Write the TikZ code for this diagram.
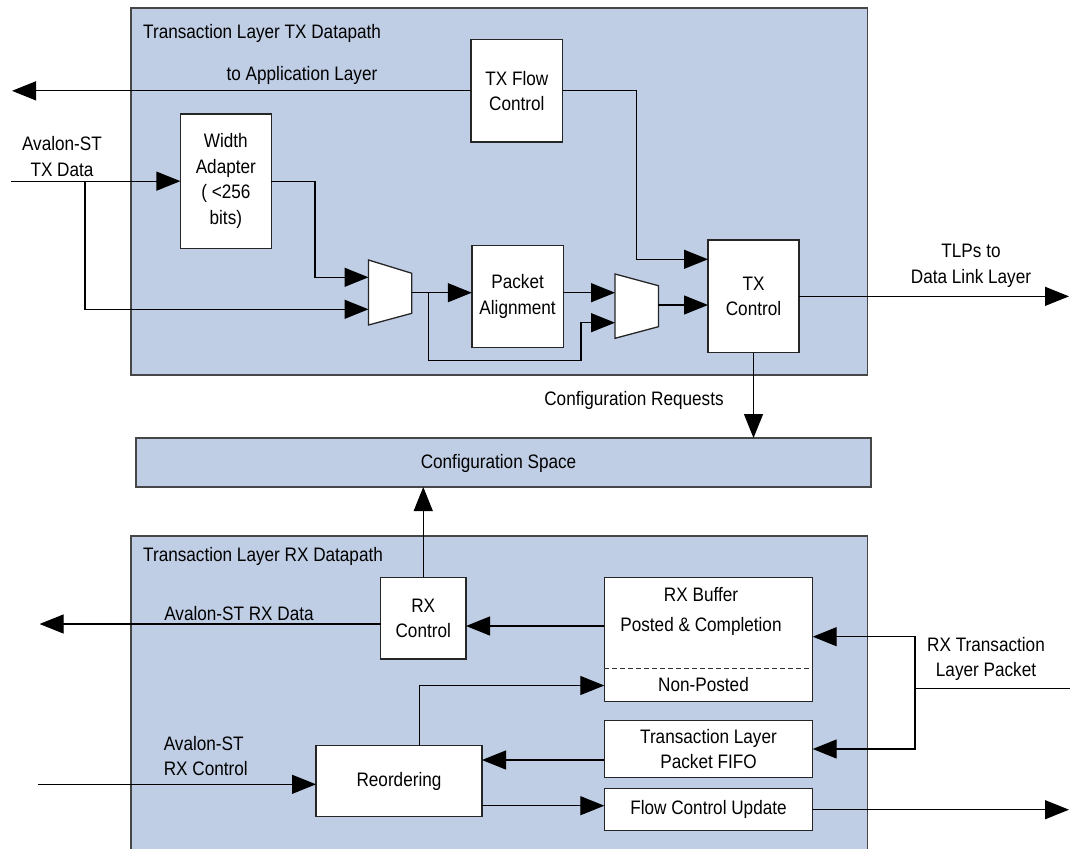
\documentclass[tikz,border=0pt]{standalone}
\usepackage{fontspec}
\setmainfont{Liberation Sans}[FakeStretch=0.88]
\usetikzlibrary{arrows.meta}
\definecolor{regblue}{RGB}{191,206,229}
\definecolor{bordgray}{RGB}{70,70,70}
\tikzset{
  region/.style={draw=bordgray, fill=regblue, line width=1.4pt, inner sep=0pt, outer sep=0pt},
  blk/.style={draw=black!85, fill=white, line width=1.4pt, align=center, inner sep=0pt, outer sep=0pt},
  muxshape/.style={draw=black!85, fill=white, line width=1.3pt},
  lbl/.style={align=center, inner sep=0pt},
  conn/.style={line width=1.2pt, draw=black},
  arr/.style={conn, -{Triangle[length=24pt,width=19pt]}},
}
\begin{document}
\begin{tikzpicture}[x=1pt,y=-1pt,font=\fontsize{19.5pt}{25.5pt}\selectfont]
\clip (0,0) rectangle (1070,848);
\fill[white] (0,0) rectangle (1070,848);

% regions
\node[region, minimum width=736.9pt, minimum height=367pt] (txdp) at (499.25,191.5) {};
\node[region, minimum width=736.9pt, minimum height=324pt] (rxdp) at (499.25,698) {};
\node[region, minimum width=735pt, minimum height=49pt] (cfg) at (503.5,462.5) {};
\node[lbl] (cfgt) at (498.5,463) {Configuration Space};
\node[lbl, anchor=west] (txtitle) at (143,33.5) {Transaction Layer TX Datapath};
\node[lbl, anchor=west] (rxtitle) at (143,556.7) {Transaction Layer RX Datapath};

% TX blocks
\node[blk, minimum width=91.7pt, minimum height=102.3pt] (txfc) at (516.85,90.85) {TX Flow\\Control};
\node[blk, minimum width=90.9pt, minimum height=134.3pt] (wa) at (225.85,181.15) {Width\\Adapter\\( <256\\bits)};
\node[blk, minimum width=91.6pt, minimum height=102pt] (pa) at (517.6,296.7) {Packet\\Alignment};
\node[blk, minimum width=91pt, minimum height=112.7pt] (txc) at (753.5,296.35) {TX\\Control};

% muxes
\draw[muxshape] (368.5,260) -- (411.8,273.3) -- (411.8,313.3) -- (368.5,325) -- cycle;
\coordinate (m1a) at (368.5,277.3);
\coordinate (m1b) at (368.5,309.3);
\coordinate (m1o) at (411.8,292.7);
\draw[muxshape] (615,274) -- (658.4,285.7) -- (658.4,326.7) -- (615,338.3) -- cycle;
\coordinate (m2a) at (615,292.7);
\coordinate (m2b) at (615,322.7);
\coordinate (m2o) at (658.4,305);

% RX blocks
\node[blk, minimum width=85.5pt, minimum height=81.7pt] (rxc) at (423.25,618.15) {RX\\Control};
\node[blk, minimum width=208.4pt, minimum height=124.4pt] (rxb) at (708.5,639.5) {};
\node[lbl] (rxbt1) at (701,594.3) {RX Buffer};
\node[lbl] (rxbt2) at (701,626) {Posted \& Completion};
\node[lbl] (rxbt3) at (703.5,685) {Non-Posted};
\draw[line width=1.2pt, black!80, dash pattern=on 5pt off 3pt] (rxb.west |- 0,668.7) -- (rxb.east |- 0,668.7);
\node[blk, minimum width=166pt, minimum height=71pt] (reo) at (399,781.2) {Reordering};
\node[blk, minimum width=208.4pt, minimum height=56.6pt] (fifo) at (708.5,749) {Transaction Layer\\Packet FIFO};
\node[blk, minimum width=208.4pt, minimum height=42pt] (fcu) at (708.5,809.7) {Flow Control Update};

% labels
\node[lbl] (appl) at (302,75) {to Application Layer};
\node[lbl] (txdl) at (62,156.5) {Avalon-ST\\TX Data};
\node[lbl] (tlpl) at (971,266) {TLPs to\\Data Link Layer};
\node[lbl] (cfgrl) at (634,400) {Configuration Requests};
\node[lbl] (rxdl) at (239,613.3) {Avalon-ST RX Data};
\node[lbl, anchor=west, align=left] (rxcl) at (163.6,756) {Avalon-ST\\RX Control};
\node[lbl] (rxtl) at (986,659) {RX Transaction\\Layer Packet};

% TX connectors
\coordinate (appout) at (12,90.85);
\draw[arr] (txfc.west) -- (appout);
\coordinate (txin) at (11.4,181.15);
\draw[arr] (txin) -- (wa.west);
\coordinate (br1) at (85,181.15);
\draw[arr] (br1) |- (m1b);
\coordinate (wab) at (315,277.3);
\draw[arr] (wa.east) -| (wab) -- (m1a);
\draw[arr] (m1o) -- (pa.west |- m1o);
\coordinate (br2) at (428.7,292.7);
\coordinate (br2b) at (581,360.7);
\draw[arr] (br2) |- (br2b) |- (m2b);
\draw[arr] (pa.east |- m2a) -- (m2a);
\draw[arr] (m2o) -- (txc.west |- m2o);
\coordinate (fcb) at (636.7,259.3);
\draw[arr] (txfc.east) -| (fcb) -- (txc.west |- fcb);
\coordinate (tlpout) at (1069,296.35);
\draw[arr] (txc.east) -- (tlpout);
\draw[arr] (txc.south) -- (cfg.north -| txc.south);

% RX connectors
\draw[arr] (rxc.north) -- (cfg.south -| rxc.north);
\coordinate (rxdout) at (39.6,624);
\draw[arr] (rxc.west |- rxdout) -- (rxdout);
\coordinate (rxbl) at (600,626);
\draw[arr] (rxb.west |- rxbl) -- (rxc.east |- rxbl);
\coordinate (np) at (419.3,685.5);
\draw[arr] (reo.north -| np) -- (np) -- (rxb.west |- np);
\coordinate (ffl) at (600,760);
\draw[arr] (fifo.west |- ffl) -- (reo.east |- ffl);
\coordinate (fcl) at (600,805.7);
\draw[arr] (reo.east |- fcl) -- (fcu.west |- fcl);
\coordinate (fcuout) at (1069,809.7);
\draw[arr] (fcu.east) -- (fcuout);
\coordinate (rxcin) at (37.9,784.3);
\draw[arr] (rxcin) -- (reo.west |- rxcin);
\coordinate (tlpin) at (1072,688.7);
\coordinate (tj) at (915,688.7);
\coordinate (tjt) at (915,636.7);
\draw[conn] (tlpin) -- (tj);
\draw[arr] (tj) |- (rxb.east |- tjt);
\draw[arr] (tj) |- (fifo.east);
\end{tikzpicture}
\end{document}
